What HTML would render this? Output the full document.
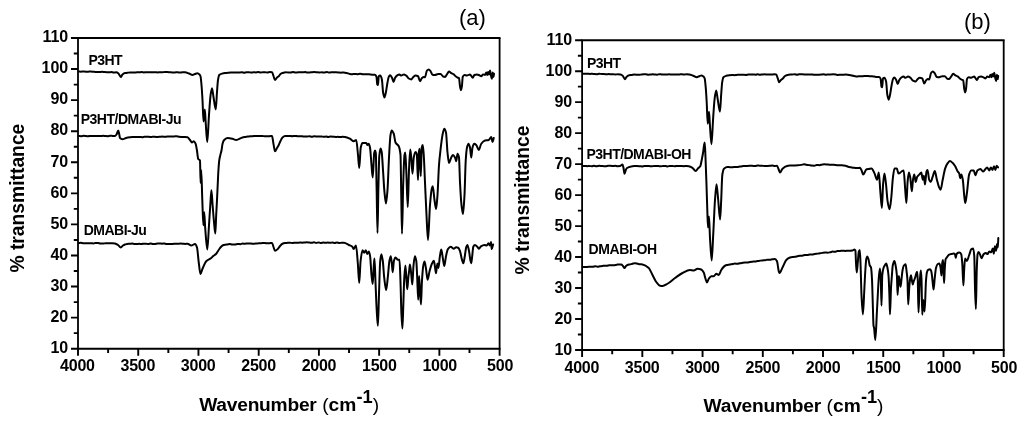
<!DOCTYPE html>
<html lang="en">
<head>
<meta charset="utf-8">
<title>FTIR spectra</title>
<style>
html,body{margin:0;padding:0;background:#fff;}
body{width:1024px;height:424px;overflow:hidden;}
svg{display:block;}
text{font-family:"Liberation Sans",Arial,Helvetica,sans-serif;fill:#000;}
.tk text{font-size:16px;font-weight:bold;}
.tkx text{letter-spacing:-0.25px;}
.lb{font-size:14px;font-weight:bold;}
.ti{font-size:19.5px;font-weight:bold;}
.ti .rg{font-weight:normal;}
.xt{font-size:19.2px;}
.yt{font-size:19.3px;}
.ti .sp{font-size:18.2px;}
.tg{font-size:22px;font-weight:normal;}
.cv{fill:none;stroke:#000;stroke-width:2.0;stroke-linejoin:round;stroke-linecap:round;}
</style>
</head>
<body>
<svg width="1024" height="424" viewBox="0 0 1024 424">
<rect x="0" y="0" width="1024" height="424" fill="#fff"/>
<g id="panel-a">
<path d="M77.10 38.0H500.50M77.10 348.7H500.50" fill="none" stroke="#000" stroke-width="2.05"/>
<path d="M78.0 38.0V348.7M499.6 38.0V348.7" fill="none" stroke="#000" stroke-width="1.8"/>
<path d="M71.00 38.00H78.0M73.80 53.53H78.0M71.00 69.07H78.0M73.80 84.61H78.0M71.00 100.14H78.0M73.80 115.67H78.0M71.00 131.21H78.0M73.80 146.75H78.0M71.00 162.28H78.0M73.80 177.81H78.0M71.00 193.35H78.0M73.80 208.88H78.0M71.00 224.42H78.0M73.80 239.96H78.0M71.00 255.49H78.0M73.80 271.02H78.0M71.00 286.56H78.0M73.80 302.10H78.0M71.00 317.63H78.0M73.80 333.17H78.0M71.00 348.70H78.0M78.00 348.7V355.70M108.11 348.7V352.90M138.23 348.7V355.70M168.34 348.7V352.90M198.46 348.7V355.70M228.57 348.7V352.90M258.69 348.7V355.70M288.80 348.7V352.90M318.91 348.7V355.70M349.03 348.7V352.90M379.14 348.7V355.70M409.26 348.7V352.90M439.37 348.7V355.70M469.49 348.7V352.90M499.60 348.7V355.70" stroke="#000" stroke-width="1.9" fill="none"/>
<g class="tk" text-anchor="end">
<text x="68.20" y="42.00">110</text>
<text x="68.20" y="73.14">100</text>
<text x="68.20" y="104.28">90</text>
<text x="68.20" y="135.42">80</text>
<text x="68.20" y="166.56">70</text>
<text x="68.20" y="197.70">60</text>
<text x="68.20" y="228.84">50</text>
<text x="68.20" y="259.98">40</text>
<text x="68.20" y="291.12">30</text>
<text x="68.20" y="322.26">20</text>
<text x="68.20" y="353.40">10</text>
</g>
<g class="tk tkx" text-anchor="middle">
<text x="77.40" y="371.30">4000</text>
<text x="137.79" y="371.30">3500</text>
<text x="198.17" y="371.30">3000</text>
<text x="258.56" y="371.30">2500</text>
<text x="318.94" y="371.30">2000</text>
<text x="379.33" y="371.30">1500</text>
<text x="439.71" y="371.30">1000</text>
<text x="500.10" y="371.30">500</text>
</g>
<path class="cv" d="M78.75 71.50C79.45 71.54 80.15 71.63 80.86 71.63C81.68 71.63 82.51 71.42 83.34 71.42C84.17 71.42 85.00 71.61 85.82 71.63C86.61 71.64 87.39 71.65 88.18 71.65C88.91 71.65 89.64 71.58 90.37 71.58C91.27 71.58 92.17 71.62 93.07 71.67C93.85 71.71 94.64 71.91 95.42 71.97C96.26 72.03 97.09 72.10 97.93 72.10C98.62 72.10 99.31 71.94 100.00 71.90C100.70 71.86 101.41 71.81 102.11 71.81C103.02 71.81 103.92 71.99 104.83 72.06C105.46 72.10 106.09 72.14 106.73 72.17C107.68 72.22 108.63 72.32 109.58 72.32C110.18 72.32 110.78 72.07 111.38 72.07C112.10 72.07 112.82 72.51 113.53 72.51C114.44 72.51 115.34 72.30 116.25 72.30C117.00 72.30 117.75 72.90 118.50 73.50C119.25 74.10 120.00 77.00 120.75 77.00C121.33 77.00 121.92 75.01 122.50 74.50C123.33 73.78 124.17 73.11 125.00 73.00C125.76 72.90 126.52 72.90 127.28 72.83C128.18 72.74 129.09 72.40 130.00 72.40C130.78 72.40 131.56 72.42 132.34 72.44C133.10 72.46 133.87 72.55 134.64 72.55C135.43 72.55 136.21 72.24 137.00 72.24C137.64 72.24 138.28 72.33 138.92 72.33C139.91 72.33 140.89 72.12 141.88 72.12C142.58 72.12 143.29 72.38 143.99 72.38C144.62 72.38 145.25 72.13 145.88 72.13C146.79 72.13 147.70 72.23 148.61 72.24C149.31 72.25 150.00 72.25 150.69 72.25C151.38 72.26 152.07 72.36 152.76 72.36C153.66 72.36 154.56 72.25 155.46 72.25C156.16 72.25 156.86 72.39 157.56 72.39C158.38 72.39 159.19 72.20 160.00 72.20C160.92 72.20 161.84 72.23 162.76 72.23C163.40 72.23 164.03 72.03 164.67 72.01C165.52 71.99 166.37 71.98 167.22 71.98C168.19 71.98 169.15 72.15 170.12 72.24C170.83 72.31 171.55 72.45 172.26 72.45C173.21 72.45 174.16 72.41 175.10 72.39C175.99 72.37 176.87 72.34 177.75 72.34C178.51 72.34 179.27 72.51 180.02 72.51C180.75 72.51 181.48 72.39 182.21 72.35C183.14 72.31 184.07 72.25 185.00 72.25C186.33 72.25 187.67 73.02 189.00 73.50C190.17 73.92 191.33 75.00 192.50 75.00C193.33 75.00 194.17 74.29 195.00 74.00C195.83 73.71 196.67 73.25 197.50 73.25C198.17 73.25 198.83 73.85 199.50 74.50C199.83 74.82 200.17 75.28 200.50 76.25C200.83 77.22 201.17 81.32 201.50 85.00C201.83 88.68 202.17 94.11 202.50 100.00C202.83 105.89 203.17 121.50 203.50 121.50C203.93 121.50 204.37 109.50 204.80 109.50C205.07 109.50 205.33 117.37 205.60 121.00C206.15 128.48 206.70 142.00 207.25 142.00C207.83 142.00 208.42 123.09 209.00 115.00C209.50 108.06 210.00 99.67 210.50 96.00C211.00 92.33 211.50 88.25 212.00 88.25C212.50 88.25 213.00 94.15 213.50 97.00C214.25 101.28 215.00 109.50 215.75 109.50C216.17 109.50 216.58 97.37 217.00 92.00C217.33 87.70 217.67 82.04 218.00 80.00C218.42 77.45 218.83 75.42 219.25 75.00C220.17 74.08 221.08 73.86 222.00 73.60C223.00 73.31 224.00 73.08 225.00 73.00C225.94 72.93 226.87 72.93 227.81 72.86C228.62 72.81 229.44 72.61 230.25 72.57C230.98 72.53 231.71 72.50 232.43 72.50C233.29 72.50 234.14 72.50 235.00 72.50C235.74 72.50 236.49 72.60 237.23 72.60C237.93 72.60 238.64 72.39 239.34 72.38C240.30 72.36 241.26 72.34 242.21 72.34C242.79 72.34 243.37 72.71 243.95 72.71C244.83 72.71 245.71 72.15 246.60 72.15C247.37 72.15 248.15 72.17 248.93 72.21C249.59 72.24 250.26 72.52 250.92 72.52C251.82 72.52 252.72 72.33 253.62 72.33C254.36 72.33 255.09 72.39 255.82 72.39C256.58 72.39 257.34 72.12 258.09 72.12C258.95 72.12 259.80 72.48 260.65 72.48C261.33 72.48 262.01 72.26 262.69 72.26C263.51 72.26 264.33 72.27 265.15 72.28C265.87 72.29 266.59 72.49 267.31 72.49C268.21 72.49 269.11 72.07 270.01 72.07C270.67 72.07 271.34 72.13 272.00 72.25C272.50 72.34 273.00 74.71 273.50 76.00C274.00 77.29 274.50 80.00 275.00 80.00C275.67 80.00 276.33 78.10 277.00 77.50C277.58 76.97 278.17 76.79 278.75 76.25C279.33 75.71 279.92 74.42 280.50 74.00C281.17 73.52 281.83 73.20 282.50 73.00C283.67 72.65 284.83 72.30 286.00 72.30C286.69 72.30 287.38 72.44 288.07 72.44C289.06 72.44 290.05 72.43 291.03 72.40C291.63 72.38 292.24 72.00 292.84 72.00C293.76 72.00 294.68 72.47 295.60 72.47C296.35 72.47 297.11 72.40 297.87 72.35C298.58 72.31 299.29 72.20 300.00 72.20C300.93 72.20 301.87 72.23 302.80 72.23C303.60 72.23 304.39 72.10 305.19 72.10C305.77 72.10 306.35 72.44 306.93 72.44C307.90 72.44 308.87 72.44 309.85 72.43C310.50 72.43 311.16 72.21 311.82 72.17C312.74 72.11 313.67 72.06 314.60 72.06C315.34 72.06 316.08 72.34 316.82 72.37C317.79 72.42 318.76 72.46 319.73 72.46C320.39 72.46 321.05 72.30 321.72 72.30C322.56 72.30 323.39 72.50 324.23 72.50C325.17 72.50 326.10 72.11 327.04 72.11C327.83 72.11 328.62 72.57 329.41 72.57C329.98 72.57 330.55 72.28 331.13 72.28C331.99 72.28 332.86 72.28 333.73 72.27C334.51 72.27 335.29 72.25 336.06 72.25C337.01 72.25 337.95 72.35 338.90 72.43C339.55 72.49 340.21 72.68 340.86 72.68C341.78 72.68 342.69 72.50 343.60 72.50C344.61 72.50 345.62 72.75 346.63 72.97C347.56 73.16 348.48 73.64 349.40 73.85C350.23 74.04 351.07 74.30 351.90 74.30C352.81 74.30 353.72 73.90 354.62 73.90C355.57 73.90 356.52 74.18 357.47 74.18C358.31 74.18 359.16 73.80 360.00 73.80C360.94 73.80 361.87 74.10 362.81 74.20C363.45 74.27 364.09 74.37 364.73 74.37C365.54 74.37 366.36 74.17 367.17 74.17C368.12 74.17 369.06 74.30 370.00 74.40C370.83 74.49 371.67 74.75 372.50 74.75C373.33 74.75 374.17 74.75 375.00 74.75C375.50 74.75 376.00 75.53 376.50 76.90C376.75 77.58 377.00 84.03 377.25 84.40C377.50 84.77 377.75 85.00 378.00 85.00C378.25 85.00 378.50 76.48 378.75 76.25C379.25 75.78 379.75 75.60 380.25 75.60C380.80 75.60 381.35 77.23 381.90 79.40C382.30 80.98 382.70 90.21 383.10 92.50C383.53 94.98 383.97 97.50 384.40 97.50C384.80 97.50 385.20 95.35 385.60 93.75C386.23 91.22 386.87 85.70 387.50 82.50C387.92 80.39 388.33 77.75 388.75 76.90C389.17 76.05 389.58 75.25 390.00 75.25C390.63 75.25 391.27 76.44 391.90 77.50C392.43 78.39 392.97 81.90 393.50 81.90C394.00 81.90 394.50 78.98 395.00 78.10C395.63 76.99 396.27 76.06 396.90 75.60C397.73 75.00 398.57 74.40 399.40 74.40C400.02 74.40 400.63 75.60 401.25 75.60C402.08 75.60 402.92 74.40 403.75 74.40C404.58 74.40 405.42 75.03 406.25 75.60C407.08 76.17 407.92 78.04 408.75 78.50C409.58 78.96 410.42 79.40 411.25 79.40C411.87 79.40 412.48 77.78 413.10 77.25C413.93 76.54 414.77 75.60 415.60 75.60C416.43 75.60 417.27 75.84 418.10 76.25C418.73 76.56 419.37 81.25 420.00 81.25C420.63 81.25 421.27 78.69 421.90 78.10C422.52 77.53 423.13 76.90 423.75 76.90C424.17 76.90 424.58 77.25 425.00 77.25C425.63 77.25 426.27 71.29 426.90 70.60C427.52 69.93 428.13 69.40 428.75 69.40C429.37 69.40 429.98 70.45 430.60 71.25C431.23 72.07 431.87 74.62 432.50 74.75C433.33 74.91 434.17 75.00 435.00 75.00C436.03 75.00 437.07 74.00 438.10 74.00C438.93 74.00 439.77 74.00 440.60 74.00C441.43 74.00 442.27 76.22 443.10 76.50C443.73 76.71 444.37 76.90 445.00 76.90C445.63 76.90 446.27 75.24 446.90 74.40C447.60 73.47 448.30 71.60 449.00 71.60C449.75 71.60 450.50 72.66 451.25 73.10C452.08 73.59 452.92 73.82 453.75 74.40C454.37 74.83 454.98 75.76 455.60 76.25C456.23 76.75 456.87 77.19 457.50 77.50C458.00 77.75 458.50 77.69 459.00 78.10C459.33 78.37 459.67 84.46 460.00 86.25C460.33 88.04 460.67 90.25 461.00 90.25C461.30 90.25 461.60 88.16 461.90 86.25C462.18 84.45 462.47 77.55 462.75 76.90C463.30 75.64 463.85 75.00 464.40 75.00C465.23 75.00 466.07 75.60 466.90 75.60C467.93 75.60 468.97 74.40 470.00 74.40C470.63 74.40 471.27 76.19 471.90 76.90C472.18 77.22 472.47 77.75 472.75 77.75C473.30 77.75 473.85 75.24 474.40 75.00C475.23 74.63 476.07 74.40 476.90 74.40C477.73 74.40 478.57 74.90 479.40 75.25C480.02 75.51 480.63 76.25 481.25 76.25C481.87 76.25 482.48 74.40 483.10 74.40C483.73 74.40 484.37 75.00 485.00 75.00C485.42 75.00 485.83 72.50 486.25 72.50C486.58 72.50 486.92 75.00 487.25 75.00C487.53 75.00 487.82 71.90 488.10 71.90C488.40 71.90 488.70 74.40 489.00 74.40C489.33 74.40 489.67 70.60 490.00 70.60C490.33 70.60 490.67 74.23 491.00 75.60C491.30 76.83 491.60 78.75 491.90 78.75C492.18 78.75 492.47 72.50 492.75 72.50C493.00 72.50 493.25 76.90 493.50 76.90C493.67 76.90 493.83 74.80 494.00 73.75"/>
<path class="cv" d="M78.75 136.00C79.52 136.08 80.30 136.24 81.07 136.24C82.00 136.24 82.93 135.84 83.86 135.84C84.67 135.84 85.48 136.00 86.30 136.08C86.88 136.13 87.47 136.25 88.05 136.25C88.91 136.25 89.78 135.89 90.64 135.89C91.49 135.89 92.34 136.02 93.19 136.05C93.91 136.08 94.64 136.10 95.37 136.10C96.36 136.10 97.35 136.01 98.35 136.01C99.14 136.01 99.94 136.07 100.74 136.07C101.55 136.07 102.36 135.82 103.18 135.82C103.86 135.82 104.54 135.92 105.22 135.98C105.96 136.05 106.70 136.26 107.43 136.26C108.38 136.26 109.33 135.78 110.28 135.78C111.07 135.78 111.86 135.93 112.65 135.95C113.43 135.98 114.22 136.00 115.00 136.00C115.50 136.00 116.00 135.19 116.50 134.50C117.08 133.70 117.67 130.50 118.25 130.50C118.57 130.50 118.88 132.65 119.20 134.00C119.47 135.14 119.73 137.73 120.00 138.00C120.83 138.85 121.67 139.20 122.50 139.20C123.67 139.20 124.83 138.27 126.00 138.00C127.33 137.69 128.67 137.48 130.00 137.30C130.75 137.20 131.50 137.09 132.25 137.04C133.16 136.97 134.06 136.91 134.97 136.91C135.83 136.91 136.69 137.08 137.55 137.08C138.37 137.08 139.18 137.00 140.00 137.00C140.73 137.00 141.47 137.19 142.20 137.19C143.01 137.19 143.82 136.77 144.63 136.77C145.67 136.77 146.71 136.77 147.75 136.77C148.48 136.77 149.21 136.93 149.94 136.93C150.78 136.93 151.61 136.89 152.45 136.87C153.30 136.86 154.15 136.84 155.00 136.84C155.72 136.84 156.43 137.00 157.15 137.00C158.10 137.00 159.05 136.89 160.00 136.80C160.72 136.73 161.44 136.48 162.16 136.48C162.97 136.48 163.78 136.84 164.59 136.84C165.43 136.84 166.27 136.66 167.10 136.58C167.84 136.50 168.58 136.38 169.32 136.38C170.13 136.38 170.95 136.38 171.76 136.38C172.51 136.39 173.25 136.40 174.00 136.40C174.80 136.40 175.60 136.34 176.40 136.34C177.33 136.34 178.25 136.72 179.17 136.80C180.30 136.90 181.43 136.99 182.56 136.99C183.37 137.00 184.19 137.00 185.00 137.00C185.83 137.00 186.67 137.12 187.50 137.30C188.33 137.48 189.17 139.01 190.00 140.00C190.63 140.75 191.27 142.50 191.90 142.50C192.52 142.50 193.13 141.30 193.75 141.30C194.37 141.30 194.98 142.43 195.60 143.75C196.03 144.68 196.47 147.54 196.90 150.00C197.33 152.46 197.77 158.37 198.20 159.00C198.80 159.88 199.40 159.31 200.00 160.40C200.20 160.76 200.40 183.00 200.60 183.00C200.80 183.00 201.00 170.00 201.20 170.00C201.57 170.00 201.93 190.85 202.30 200.00C202.67 209.15 203.03 225.30 203.40 225.30C203.67 225.30 203.93 212.30 204.20 212.30C204.53 212.30 204.87 223.76 205.20 228.00C205.90 236.90 206.60 249.50 207.30 249.50C207.87 249.50 208.43 233.45 209.00 225.00C209.43 218.54 209.87 211.19 210.30 205.00C210.67 199.77 211.03 190.30 211.40 190.30C211.80 190.30 212.20 200.12 212.60 205.00C213.07 210.69 213.53 217.21 214.00 222.00C214.43 226.45 214.87 233.60 215.30 233.60C215.60 233.60 215.90 220.86 216.20 215.00C216.43 210.45 216.67 206.62 216.90 202.00C217.17 196.72 217.43 190.53 217.70 185.00C217.93 180.16 218.17 174.36 218.40 170.80C218.70 166.23 219.00 162.07 219.30 160.00C219.63 157.70 219.97 156.66 220.30 155.20C220.73 153.30 221.17 152.20 221.60 150.00C221.90 148.48 222.20 145.21 222.50 144.00C222.92 142.32 223.33 141.00 223.75 140.50C225.00 139.00 226.25 138.00 227.50 138.00C228.26 138.00 229.02 138.09 229.78 138.18C230.68 138.28 231.59 138.52 232.50 138.75C233.75 139.07 235.00 140.00 236.25 140.00C238.33 140.00 240.42 138.00 242.50 137.50C243.54 137.25 244.57 137.12 245.61 136.93C246.41 136.78 247.20 136.57 248.00 136.50C248.69 136.44 249.38 136.42 250.07 136.37C250.97 136.32 251.86 136.26 252.76 136.19C253.51 136.13 254.25 136.04 255.00 136.00C255.80 135.95 256.59 135.89 257.39 135.89C258.21 135.89 259.03 135.98 259.85 135.98C260.71 135.98 261.57 135.97 262.43 135.97C263.15 135.97 263.88 136.27 264.60 136.27C265.34 136.27 266.09 136.14 266.83 136.14C267.72 136.14 268.61 136.17 269.51 136.17C270.34 136.17 271.17 136.00 272.00 136.00C272.50 136.00 273.00 141.46 273.50 144.00C274.00 146.54 274.50 151.25 275.00 151.25C275.67 151.25 276.33 149.11 277.00 148.00C277.58 147.03 278.17 146.14 278.75 145.00C279.33 143.86 279.92 142.16 280.50 141.00C281.17 139.67 281.83 138.11 282.50 137.50C283.33 136.74 284.17 136.00 285.00 136.00C285.89 136.00 286.78 136.08 287.67 136.08C288.47 136.08 289.28 135.93 290.09 135.93C290.76 135.93 291.44 136.26 292.11 136.26C293.01 136.26 293.91 135.95 294.81 135.95C295.79 135.95 296.77 136.26 297.75 136.26C298.50 136.26 299.25 136.25 300.00 136.25C300.66 136.25 301.33 136.27 301.99 136.30C302.82 136.33 303.64 136.49 304.47 136.53C305.29 136.57 306.10 136.61 306.92 136.61C307.80 136.61 308.68 136.17 309.56 136.17C310.30 136.17 311.03 136.71 311.77 136.71C312.64 136.71 313.50 136.29 314.37 136.29C315.07 136.29 315.77 136.35 316.47 136.40C317.19 136.45 317.91 136.62 318.62 136.62C319.57 136.62 320.52 136.45 321.47 136.45C322.22 136.45 322.97 136.85 323.73 136.85C324.61 136.85 325.49 136.50 326.37 136.50C326.94 136.50 327.51 136.95 328.08 136.95C328.94 136.95 329.79 136.58 330.65 136.58C331.57 136.58 332.48 136.62 333.40 136.67C334.16 136.71 334.93 136.95 335.70 136.95C336.38 136.95 337.05 136.86 337.73 136.86C338.52 136.86 339.31 137.09 340.09 137.09C340.88 137.09 341.67 136.83 342.46 136.83C343.31 136.83 344.15 136.91 345.00 137.00C346.67 137.17 348.33 137.97 350.00 138.75C351.25 139.33 352.50 141.25 353.75 141.25C354.58 141.25 355.42 140.00 356.25 140.00C356.83 140.00 357.42 149.49 358.00 155.00C358.42 158.94 358.83 168.00 359.25 168.00C359.75 168.00 360.25 149.70 360.75 147.50C361.33 144.93 361.92 143.00 362.50 143.00C363.75 143.00 365.00 143.00 366.25 143.00C366.67 143.00 367.08 145.00 367.50 145.00C367.92 145.00 368.33 143.75 368.75 143.75C369.17 143.75 369.58 145.55 370.00 147.50C370.50 149.84 371.00 159.63 371.50 165.00C371.92 169.48 372.33 177.50 372.75 177.50C373.23 177.50 373.72 155.31 374.20 153.00C374.47 151.73 374.73 150.60 375.00 150.60C375.27 150.60 375.53 151.50 375.80 153.00C376.07 154.50 376.33 175.11 376.60 187.50C376.90 201.44 377.20 233.00 377.50 233.00C377.80 233.00 378.10 199.91 378.40 187.50C378.70 175.09 379.00 159.11 379.30 156.00C379.73 151.51 380.17 148.50 380.60 148.50C380.97 148.50 381.33 150.14 381.70 152.00C382.13 154.20 382.57 163.77 383.00 170.00C383.50 177.19 384.00 187.57 384.50 192.50C385.00 197.43 385.50 203.50 386.00 203.50C386.50 203.50 387.00 196.36 387.50 190.00C388.00 183.64 388.50 166.36 389.00 157.50C389.50 148.64 390.00 137.85 390.50 135.00C390.92 132.62 391.33 130.50 391.75 130.50C392.42 130.50 393.08 132.10 393.75 133.75C394.33 135.20 394.92 141.33 395.50 142.50C396.58 144.67 397.67 144.08 398.75 146.25C399.33 147.42 399.92 149.00 400.50 155.00C400.75 157.57 401.00 181.88 401.25 195.00C401.50 208.12 401.75 233.75 402.00 233.75C402.42 233.75 402.83 194.43 403.25 182.50C403.67 170.57 404.08 157.27 404.50 155.00C404.75 153.64 405.00 152.50 405.25 152.50C405.58 152.50 405.92 163.25 406.25 170.00C406.75 180.12 407.25 207.00 407.75 207.00C408.17 207.00 408.58 178.79 409.00 170.00C409.42 161.21 409.83 149.50 410.25 149.50C410.58 149.50 410.92 154.23 411.25 157.50C411.67 161.59 412.08 173.75 412.50 173.75C412.92 173.75 413.33 159.68 413.75 157.50C414.33 154.44 414.92 152.00 415.50 152.00C415.92 152.00 416.33 152.66 416.75 153.75C417.17 154.84 417.58 180.00 418.00 180.00C418.33 180.00 418.67 153.17 419.00 151.25C419.25 149.81 419.50 148.75 419.75 148.75C420.08 148.75 420.42 176.25 420.75 176.25C421.08 176.25 421.42 149.03 421.75 147.50C422.08 145.97 422.42 145.00 422.75 145.00C423.08 145.00 423.42 150.48 423.75 155.00C424.17 160.65 424.58 173.40 425.00 182.50C425.50 193.42 426.00 205.58 426.50 215.00C427.00 224.42 427.50 240.00 428.00 240.00C428.67 240.00 429.33 213.03 430.00 205.00C430.58 197.97 431.17 190.93 431.75 188.75C432.08 187.50 432.42 186.25 432.75 186.25C433.33 186.25 433.92 196.18 434.50 200.00C435.03 203.49 435.57 209.00 436.10 209.00C436.57 209.00 437.03 201.20 437.50 195.00C438.00 188.36 438.50 171.67 439.00 165.00C439.50 158.33 440.00 154.32 440.50 150.00C441.17 144.25 441.83 138.20 442.50 135.00C443.08 132.20 443.67 128.75 444.25 128.75C444.83 128.75 445.42 130.31 446.00 132.50C446.50 134.38 447.00 147.91 447.50 152.50C448.00 157.09 448.50 163.00 449.00 163.00C449.75 163.00 450.50 158.84 451.25 157.50C451.83 156.46 452.42 155.00 453.00 155.00C453.67 155.00 454.33 156.29 455.00 157.50C455.42 158.26 455.83 161.25 456.25 161.25C456.67 161.25 457.08 153.75 457.50 153.75C458.00 153.75 458.50 155.10 459.00 157.50C459.33 159.10 459.67 176.14 460.00 182.50C460.50 192.03 461.00 200.71 461.50 205.00C462.00 209.29 462.50 214.00 463.00 214.00C463.50 214.00 464.00 203.82 464.50 195.00C464.92 187.65 465.33 166.14 465.75 160.00C466.17 153.86 466.58 149.20 467.00 147.50C467.50 145.46 468.00 143.75 468.50 143.75C469.00 143.75 469.50 145.56 470.00 147.50C470.42 149.11 470.83 157.50 471.25 157.50C471.67 157.50 472.08 148.96 472.50 147.50C473.08 145.46 473.67 143.75 474.25 143.75C474.92 143.75 475.58 144.38 476.25 145.00C477.08 145.78 477.92 150.00 478.75 150.00C479.58 150.00 480.42 144.86 481.25 143.75C482.50 142.09 483.75 140.79 485.00 140.50C486.25 140.21 487.50 140.32 488.75 140.00C489.58 139.79 490.42 137.00 491.25 137.00C491.67 137.00 492.08 142.00 492.50 142.00C492.92 142.00 493.33 139.33 493.75 138.00"/>
<path class="cv" d="M78.75 243.00C79.44 242.96 80.14 242.87 80.83 242.87C81.69 242.87 82.56 243.29 83.43 243.29C84.28 243.29 85.14 243.25 86.00 243.22C86.70 243.20 87.40 243.14 88.10 243.14C89.10 243.14 90.10 243.15 91.11 243.18C91.94 243.20 92.77 243.41 93.61 243.41C94.26 243.41 94.91 242.95 95.56 242.95C96.47 242.95 97.38 243.00 98.29 243.06C98.89 243.10 99.50 243.40 100.11 243.43C101.14 243.49 102.16 243.52 103.19 243.52C104.03 243.52 104.86 243.21 105.70 243.20C106.27 243.19 106.84 243.19 107.42 243.19C108.46 243.19 109.50 243.22 110.55 243.22C111.14 243.22 111.72 243.20 112.31 243.20C113.21 243.20 114.10 243.34 115.00 243.50C116.00 243.68 117.00 244.35 118.00 245.00C118.92 245.59 119.83 247.50 120.75 247.50C121.50 247.50 122.25 245.98 123.00 245.50C123.67 245.08 124.33 244.74 125.00 244.50C125.71 244.24 126.43 243.93 127.14 243.89C128.09 243.83 129.05 243.85 130.00 243.80C130.73 243.77 131.45 243.61 132.18 243.61C132.94 243.61 133.69 244.04 134.45 244.04C135.18 244.04 135.91 244.00 136.63 243.97C137.55 243.94 138.47 243.83 139.39 243.83C140.11 243.83 140.84 243.94 141.56 243.94C142.33 243.94 143.10 243.64 143.87 243.64C144.57 243.64 145.27 243.64 145.96 243.64C146.75 243.65 147.53 244.06 148.32 244.06C149.09 244.06 149.87 243.54 150.64 243.54C151.42 243.54 152.20 243.96 152.98 243.96C153.74 243.96 154.50 243.93 155.26 243.89C155.93 243.86 156.60 243.54 157.27 243.53C158.19 243.52 159.11 243.52 160.03 243.52C160.70 243.52 161.37 243.71 162.04 243.71C162.78 243.71 163.52 243.51 164.25 243.51C164.97 243.51 165.69 244.02 166.41 244.02C167.35 244.02 168.30 244.02 169.25 244.02C169.97 244.02 170.68 244.02 171.39 244.02C172.26 244.02 173.12 243.87 173.99 243.83C174.67 243.80 175.34 243.79 176.02 243.76C176.71 243.74 177.39 243.71 178.08 243.69C178.98 243.65 179.88 243.59 180.78 243.59C181.58 243.59 182.38 243.70 183.18 243.76C183.88 243.81 184.58 243.93 185.28 243.93C186.02 243.93 186.76 243.75 187.50 243.75C188.75 243.75 190.00 245.50 191.25 245.50C192.50 245.50 193.75 244.00 195.00 244.00C195.67 244.00 196.33 245.53 197.00 247.50C197.58 249.22 198.17 258.16 198.75 262.50C199.33 266.84 199.92 274.00 200.50 274.00C201.17 274.00 201.83 270.28 202.50 268.75C203.75 265.87 205.00 262.51 206.25 261.25C207.92 259.57 209.58 259.36 211.25 258.00C211.83 257.52 212.42 256.76 213.00 256.25C214.08 255.30 215.17 254.86 216.25 253.75C217.33 252.64 218.42 250.12 219.50 248.75C220.50 247.48 221.50 245.92 222.50 245.50C223.37 245.13 224.24 244.94 225.12 244.80C225.91 244.66 226.71 244.61 227.50 244.50C228.27 244.39 229.03 244.11 229.80 244.11C230.57 244.11 231.35 244.54 232.12 244.54C233.11 244.54 234.09 244.50 235.07 244.44C235.96 244.39 236.84 243.97 237.72 243.97C238.61 243.97 239.49 244.20 240.37 244.20C241.07 244.20 241.77 243.62 242.47 243.62C243.31 243.62 244.16 243.75 245.00 243.75C245.77 243.75 246.54 243.55 247.31 243.49C248.14 243.44 248.97 243.38 249.80 243.38C250.71 243.38 251.62 243.81 252.53 243.81C253.22 243.81 253.90 243.69 254.59 243.63C255.50 243.55 256.42 243.45 257.34 243.40C258.24 243.34 259.15 243.33 260.05 243.27C260.85 243.22 261.64 243.01 262.44 243.01C263.30 243.01 264.15 243.02 265.01 243.03C265.57 243.03 266.13 243.35 266.69 243.35C267.70 243.35 268.71 243.23 269.72 243.17C270.48 243.12 271.24 243.00 272.00 243.00C272.50 243.00 273.00 245.71 273.50 247.00C274.00 248.29 274.50 250.75 275.00 250.75C276.00 250.75 277.00 249.67 278.00 248.75C278.67 248.14 279.33 246.77 280.00 246.00C280.67 245.23 281.33 244.34 282.00 244.00C283.00 243.48 284.00 243.09 285.00 243.00C285.90 242.91 286.81 242.90 287.71 242.85C288.37 242.81 289.03 242.73 289.69 242.73C290.75 242.73 291.81 243.02 292.86 243.02C293.50 243.02 294.14 242.63 294.78 242.63C295.68 242.63 296.57 242.81 297.46 242.81C298.31 242.81 299.15 242.50 300.00 242.50C300.64 242.50 301.28 242.70 301.92 242.70C302.76 242.70 303.60 242.62 304.43 242.56C305.17 242.50 305.91 242.31 306.65 242.31C307.62 242.31 308.60 242.48 309.57 242.56C310.37 242.64 311.16 242.78 311.96 242.78C312.67 242.78 313.38 242.36 314.10 242.36C314.83 242.36 315.55 242.89 316.28 242.89C317.03 242.89 317.78 242.38 318.53 242.38C319.22 242.38 319.90 242.92 320.59 242.92C321.57 242.92 322.56 242.52 323.54 242.52C324.14 242.52 324.73 242.79 325.33 242.79C326.15 242.79 326.97 242.51 327.80 242.51C328.69 242.51 329.59 242.77 330.49 242.77C331.10 242.77 331.71 242.45 332.31 242.45C333.12 242.45 333.93 242.88 334.75 242.88C335.43 242.88 336.11 242.52 336.79 242.52C337.71 242.52 338.63 243.00 339.55 243.00C340.23 243.00 340.91 242.77 341.59 242.77C342.39 242.77 343.20 242.78 344.00 242.80C345.63 242.84 347.27 244.21 348.90 245.00C350.07 245.56 351.23 245.77 352.40 246.80C352.80 247.15 353.20 249.00 353.60 249.00C354.40 249.00 355.20 245.60 356.00 245.60C356.60 245.60 357.20 256.04 357.80 263.00C358.27 268.41 358.73 282.90 359.20 282.90C359.67 282.90 360.13 264.96 360.60 261.00C361.23 255.63 361.87 250.30 362.50 250.30C363.07 250.30 363.63 252.70 364.20 252.70C364.73 252.70 365.27 250.30 365.80 250.30C366.27 250.30 366.73 253.90 367.20 253.90C367.77 253.90 368.33 251.50 368.90 251.50C369.30 251.50 369.70 253.81 370.10 256.20C370.57 258.99 371.03 270.54 371.50 275.00C371.90 278.82 372.30 284.00 372.70 284.00C373.07 284.00 373.43 270.11 373.80 265.60C374.03 262.73 374.27 258.60 374.50 258.60C374.83 258.60 375.17 274.21 375.50 282.00C375.90 291.35 376.30 303.27 376.70 310.00C377.10 316.73 377.50 325.80 377.90 325.80C378.27 325.80 378.63 304.34 379.00 294.00C379.40 282.72 379.80 264.71 380.20 261.00C380.60 257.29 381.00 254.30 381.40 254.30C381.87 254.30 382.33 257.83 382.80 261.00C383.27 264.17 383.73 273.39 384.20 277.40C384.83 282.84 385.47 290.00 386.10 290.00C386.67 290.00 387.23 282.28 387.80 277.40C388.33 272.80 388.87 263.71 389.40 261.00C389.87 258.63 390.33 256.20 390.80 256.20C391.13 256.20 391.47 260.54 391.80 263.30C392.10 265.79 392.40 272.20 392.70 272.20C393.10 272.20 393.50 262.49 393.90 261.00C394.43 259.01 394.97 257.40 395.50 257.40C396.30 257.40 397.10 259.80 397.90 259.80C398.43 259.80 398.97 259.80 399.50 259.80C399.83 259.80 400.17 272.97 400.50 282.00C400.80 290.13 401.10 306.51 401.40 313.00C401.73 320.21 402.07 328.60 402.40 328.60C402.70 328.60 403.00 313.73 403.30 305.70C403.63 296.78 403.97 282.62 404.30 277.40C404.67 271.65 405.03 265.60 405.40 265.60C405.80 265.60 406.20 277.36 406.60 282.00C406.83 284.71 407.07 289.20 407.30 289.20C407.63 289.20 407.97 280.51 408.30 277.40C408.60 274.60 408.90 272.83 409.20 270.40C409.43 268.51 409.67 264.50 409.90 264.50C410.30 264.50 410.70 269.47 411.10 272.70C411.50 275.93 411.90 284.50 412.30 284.50C412.70 284.50 413.10 269.41 413.50 265.60C413.97 261.16 414.43 256.20 414.90 256.20C415.37 256.20 415.83 258.17 416.30 261.00C416.60 262.82 416.90 271.38 417.20 277.40C417.53 284.09 417.87 299.80 418.20 299.80C418.50 299.80 418.80 276.00 419.10 276.00C419.40 276.00 419.70 287.15 420.00 291.60C420.33 296.54 420.67 304.50 421.00 304.50C421.30 304.50 421.60 286.91 421.90 282.00C422.37 274.35 422.83 267.99 423.30 265.60C423.70 263.55 424.10 261.60 424.50 261.60C424.97 261.60 425.43 265.44 425.90 268.00C426.47 271.10 427.03 279.80 427.60 279.80C428.23 279.80 428.87 273.90 429.50 271.50C430.20 268.85 430.90 266.03 431.60 264.50C432.37 262.83 433.13 260.80 433.90 260.80C434.27 260.80 434.63 264.76 435.00 267.00C435.32 268.93 435.63 273.30 435.95 273.30C436.23 273.30 436.52 268.68 436.80 267.00C437.03 265.62 437.27 263.50 437.50 263.50C437.80 263.50 438.10 268.00 438.40 268.00C438.90 268.00 439.40 259.14 439.90 256.20C440.37 253.46 440.83 249.60 441.30 249.60C441.83 249.60 442.37 255.67 442.90 258.60C443.37 261.16 443.83 266.10 444.30 266.10C444.87 266.10 445.43 258.79 446.00 256.20C446.63 253.31 447.27 249.99 447.90 249.10C448.83 247.79 449.77 246.80 450.70 246.80C451.73 246.80 452.77 248.70 453.80 248.70C454.57 248.70 455.33 247.30 456.10 247.30C456.90 247.30 457.70 247.57 458.50 248.00C459.03 248.29 459.57 249.96 460.10 251.50C460.73 253.33 461.37 257.81 462.00 259.80C462.47 261.26 462.93 263.30 463.40 263.30C463.87 263.30 464.33 258.81 464.80 256.20C465.30 253.40 465.80 248.12 466.30 246.80C466.67 245.84 467.03 244.90 467.40 244.90C467.97 244.90 468.53 248.64 469.10 251.50C469.50 253.52 469.90 257.83 470.30 259.80C470.60 261.27 470.90 263.30 471.20 263.30C471.53 263.30 471.87 258.78 472.20 256.20C472.57 253.36 472.93 247.57 473.30 246.80C473.87 245.61 474.43 244.90 475.00 244.90C475.77 244.90 476.53 246.07 477.30 246.80C477.87 247.34 478.43 248.70 479.00 248.70C479.63 248.70 480.27 246.71 480.90 246.30C482.07 245.55 483.23 244.90 484.40 244.90C485.20 244.90 486.00 245.60 486.80 245.60C487.33 245.60 487.87 243.30 488.40 243.30C488.87 243.30 489.33 245.60 489.80 245.60C490.20 245.60 490.60 242.10 491.00 242.10C491.23 242.10 491.47 249.10 491.70 249.10C492.17 249.10 492.63 245.97 493.10 244.40"/>
<text class="lb" x="88.6" y="64.6" textLength="34.0">P3HT</text>
<text class="lb" x="80.7" y="124.0" textLength="100.8">P3HT/DMABI-Ju</text>
<text class="lb" x="83.8" y="234.8" textLength="63.1">DMABI-Ju</text>
<text class="ti xt" x="199.2" y="411.1" textLength="117.6">Wavenumber</text>
<text class="ti xt" x="322.20" y="411.1"><tspan class="rg">(</tspan>cm<tspan class="sp" dx="0.2" dy="-8.5">-1</tspan><tspan class="rg" dy="8.5">)</tspan></text>
<text class="ti yt" transform="translate(24.3 272.6) rotate(-90)">% transmittance</text>
<text class="tg" x="458.9" y="25.4">(a)</text>
</g>
<g id="panel-b">
<path d="M581.20 40.2H1004.60M581.20 350.0H1004.60" fill="none" stroke="#000" stroke-width="2.05"/>
<path d="M582.1 40.2V350.0M1003.7 40.2V350.0" fill="none" stroke="#000" stroke-width="1.8"/>
<path d="M575.10 40.20H582.1M577.90 55.69H582.1M575.10 71.18H582.1M577.90 86.67H582.1M575.10 102.16H582.1M577.90 117.65H582.1M575.10 133.14H582.1M577.90 148.63H582.1M575.10 164.12H582.1M577.90 179.61H582.1M575.10 195.10H582.1M577.90 210.59H582.1M575.10 226.08H582.1M577.90 241.57H582.1M575.10 257.06H582.1M577.90 272.55H582.1M575.10 288.04H582.1M577.90 303.53H582.1M575.10 319.02H582.1M577.90 334.51H582.1M575.10 350.00H582.1M582.10 350.0V357.00M612.21 350.0V354.20M642.33 350.0V357.00M672.44 350.0V354.20M702.56 350.0V357.00M732.67 350.0V354.20M762.79 350.0V357.00M792.90 350.0V354.20M823.01 350.0V357.00M853.13 350.0V354.20M883.24 350.0V357.00M913.36 350.0V354.20M943.47 350.0V357.00M973.59 350.0V354.20M1003.70 350.0V357.00" stroke="#000" stroke-width="1.9" fill="none"/>
<g class="tk" text-anchor="end">
<text x="572.20" y="44.90">110</text>
<text x="572.20" y="75.88">100</text>
<text x="572.20" y="106.86">90</text>
<text x="572.20" y="137.84">80</text>
<text x="572.20" y="168.82">70</text>
<text x="572.20" y="199.80">60</text>
<text x="572.20" y="230.78">50</text>
<text x="572.20" y="261.76">40</text>
<text x="572.20" y="292.74">30</text>
<text x="572.20" y="323.72">20</text>
<text x="572.20" y="354.70">10</text>
</g>
<g class="tk tkx" text-anchor="middle">
<text x="581.80" y="372.90">4000</text>
<text x="642.13" y="372.90">3500</text>
<text x="702.46" y="372.90">3000</text>
<text x="762.79" y="372.90">2500</text>
<text x="823.11" y="372.90">2000</text>
<text x="883.44" y="372.90">1500</text>
<text x="943.77" y="372.90">1000</text>
<text x="1004.10" y="372.90">500</text>
</g>
<path class="cv" d="M582.95 73.70C583.66 73.69 584.37 73.68 585.08 73.68C585.86 73.68 586.65 73.71 587.43 73.73C588.31 73.76 589.20 73.91 590.08 73.91C590.79 73.91 591.49 73.80 592.20 73.80C592.96 73.80 593.73 74.06 594.50 74.10C595.32 74.14 596.13 74.18 596.95 74.18C597.68 74.18 598.41 73.74 599.14 73.74C600.02 73.74 600.90 73.96 601.78 74.01C602.59 74.06 603.39 74.06 604.20 74.10C605.04 74.15 605.88 74.36 606.72 74.36C607.43 74.36 608.14 74.10 608.85 74.10C609.68 74.10 610.51 74.25 611.34 74.25C611.99 74.25 612.64 74.23 613.29 74.23C614.00 74.23 614.70 74.50 615.41 74.50C616.19 74.50 616.98 74.27 617.76 74.27C618.66 74.27 619.55 74.36 620.45 74.50C621.20 74.61 621.95 75.10 622.70 75.70C623.45 76.30 624.20 79.20 624.95 79.20C625.53 79.20 626.12 77.21 626.70 76.70C627.53 75.98 628.37 75.33 629.20 75.20C630.07 75.06 630.93 75.07 631.80 74.97C632.60 74.88 633.40 74.60 634.20 74.60C635.00 74.60 635.80 74.63 636.60 74.66C637.42 74.69 638.24 74.82 639.06 74.82C639.87 74.82 640.68 74.58 641.50 74.49C642.10 74.43 642.71 74.33 643.31 74.33C644.10 74.33 644.89 74.34 645.68 74.34C646.59 74.34 647.49 74.65 648.39 74.65C648.98 74.65 649.56 74.63 650.14 74.60C651.03 74.56 651.93 74.25 652.82 74.25C653.62 74.25 654.42 74.53 655.22 74.59C655.90 74.64 656.58 74.69 657.25 74.69C657.92 74.69 658.59 74.17 659.26 74.17C660.19 74.17 661.13 74.51 662.07 74.51C662.78 74.51 663.49 74.40 664.20 74.40C664.90 74.40 665.60 74.46 666.30 74.46C667.29 74.46 668.28 74.34 669.27 74.34C669.98 74.34 670.69 74.59 671.40 74.59C672.44 74.59 673.48 74.45 674.51 74.45C675.17 74.45 675.82 74.45 676.48 74.45C677.42 74.45 678.37 74.45 679.32 74.44C680.19 74.43 681.07 74.28 681.94 74.28C682.80 74.28 683.65 74.56 684.51 74.56C685.14 74.56 685.77 74.22 686.40 74.22C687.34 74.22 688.27 74.33 689.20 74.45C690.53 74.62 691.87 75.22 693.20 75.70C694.37 76.12 695.53 77.20 696.70 77.20C697.53 77.20 698.37 76.49 699.20 76.20C700.03 75.91 700.87 75.45 701.70 75.45C702.37 75.45 703.03 76.05 703.70 76.70C704.03 77.02 704.37 77.48 704.70 78.45C705.03 79.42 705.37 83.52 705.70 87.20C706.03 90.88 706.37 96.31 706.70 102.20C707.03 108.09 707.37 123.70 707.70 123.70C708.13 123.70 708.57 111.70 709.00 111.70C709.27 111.70 709.53 119.57 709.80 123.20C710.35 130.68 710.90 144.20 711.45 144.20C712.03 144.20 712.62 125.29 713.20 117.20C713.70 110.26 714.20 101.87 714.70 98.20C715.20 94.53 715.70 90.45 716.20 90.45C716.70 90.45 717.20 96.35 717.70 99.20C718.45 103.48 719.20 111.70 719.95 111.70C720.37 111.70 720.78 99.57 721.20 94.20C721.53 89.90 721.87 84.24 722.20 82.20C722.62 79.65 723.03 77.62 723.45 77.20C724.37 76.28 725.28 76.06 726.20 75.80C727.20 75.51 728.20 75.31 729.20 75.20C730.11 75.10 731.01 74.98 731.92 74.98C732.79 74.98 733.65 75.19 734.52 75.19C735.19 75.19 735.86 75.03 736.52 74.96C737.42 74.87 738.31 74.71 739.20 74.70C739.90 74.69 740.59 74.68 741.29 74.68C742.05 74.68 742.81 74.81 743.58 74.84C744.33 74.86 745.09 74.89 745.85 74.89C746.68 74.89 747.51 74.56 748.34 74.52C749.02 74.49 749.71 74.46 750.39 74.46C751.17 74.45 751.95 74.45 752.73 74.45C753.74 74.45 754.76 74.68 755.77 74.68C756.31 74.68 756.85 74.35 757.39 74.35C758.26 74.35 759.12 74.77 759.98 74.77C760.75 74.77 761.52 74.53 762.29 74.46C763.12 74.40 763.94 74.32 764.77 74.32C765.41 74.32 766.06 74.53 766.70 74.53C767.64 74.53 768.59 74.48 769.53 74.48C770.16 74.48 770.78 74.50 771.41 74.50C772.31 74.50 773.22 74.30 774.13 74.30C774.82 74.30 775.51 74.35 776.20 74.45C776.70 74.52 777.20 76.91 777.70 78.20C778.20 79.49 778.70 82.20 779.20 82.20C779.87 82.20 780.53 80.30 781.20 79.70C781.78 79.17 782.37 78.99 782.95 78.45C783.53 77.91 784.12 76.62 784.70 76.20C785.37 75.72 786.03 75.40 786.70 75.20C787.87 74.85 789.03 74.52 790.20 74.50C790.88 74.49 791.57 74.49 792.25 74.48C793.08 74.47 793.91 74.27 794.74 74.27C795.48 74.27 796.23 74.65 796.97 74.65C797.74 74.65 798.52 74.34 799.30 74.34C800.27 74.34 801.25 74.34 802.22 74.35C802.88 74.35 803.54 74.37 804.20 74.40C805.13 74.44 806.05 74.61 806.98 74.61C807.66 74.61 808.34 74.43 809.03 74.41C809.71 74.40 810.40 74.39 811.08 74.39C812.02 74.39 812.97 74.74 813.91 74.74C814.60 74.74 815.28 74.66 815.97 74.66C817.01 74.66 818.06 74.72 819.10 74.72C819.79 74.72 820.48 74.67 821.17 74.62C821.93 74.56 822.70 74.27 823.46 74.27C824.28 74.27 825.11 74.69 825.93 74.69C826.65 74.69 827.37 74.60 828.09 74.55C828.89 74.50 829.69 74.40 830.49 74.38C831.51 74.36 832.52 74.34 833.54 74.34C834.29 74.34 835.04 74.42 835.79 74.49C836.50 74.56 837.22 74.88 837.94 74.88C838.79 74.88 839.64 74.69 840.49 74.69C841.42 74.69 842.34 74.75 843.27 74.75C843.87 74.75 844.48 74.58 845.08 74.58C845.99 74.58 846.89 74.64 847.80 74.70C848.81 74.77 849.82 74.98 850.83 75.19C851.56 75.34 852.29 75.60 853.02 75.79C854.05 76.05 855.07 76.50 856.10 76.50C856.94 76.50 857.78 76.32 858.63 76.32C859.49 76.32 860.35 76.36 861.22 76.36C862.21 76.36 863.21 76.01 864.20 76.00C865.16 75.99 866.12 75.98 867.08 75.98C867.80 75.98 868.51 76.10 869.23 76.15C870.09 76.21 870.95 76.25 871.81 76.32C872.61 76.39 873.40 76.50 874.20 76.60C875.03 76.71 875.87 76.95 876.70 76.95C877.53 76.95 878.37 76.95 879.20 76.95C879.70 76.95 880.20 77.73 880.70 79.10C880.95 79.78 881.20 86.23 881.45 86.60C881.70 86.97 881.95 87.20 882.20 87.20C882.45 87.20 882.70 78.68 882.95 78.45C883.45 77.98 883.95 77.80 884.45 77.80C885.00 77.80 885.55 79.43 886.10 81.60C886.50 83.18 886.90 92.41 887.30 94.70C887.73 97.18 888.17 99.70 888.60 99.70C889.00 99.70 889.40 97.55 889.80 95.95C890.43 93.42 891.07 87.90 891.70 84.70C892.12 82.59 892.53 79.95 892.95 79.10C893.37 78.25 893.78 77.45 894.20 77.45C894.83 77.45 895.47 78.64 896.10 79.70C896.63 80.59 897.17 84.10 897.70 84.10C898.20 84.10 898.70 81.18 899.20 80.30C899.83 79.19 900.47 78.26 901.10 77.80C901.93 77.20 902.77 76.60 903.60 76.60C904.22 76.60 904.83 77.80 905.45 77.80C906.28 77.80 907.12 76.60 907.95 76.60C908.78 76.60 909.62 77.23 910.45 77.80C911.28 78.37 912.12 80.24 912.95 80.70C913.78 81.16 914.62 81.60 915.45 81.60C916.07 81.60 916.68 79.98 917.30 79.45C918.13 78.74 918.97 77.80 919.80 77.80C920.63 77.80 921.47 78.04 922.30 78.45C922.93 78.76 923.57 83.45 924.20 83.45C924.83 83.45 925.47 80.89 926.10 80.30C926.72 79.73 927.33 79.10 927.95 79.10C928.37 79.10 928.78 79.45 929.20 79.45C929.83 79.45 930.47 73.49 931.10 72.80C931.72 72.13 932.33 71.60 932.95 71.60C933.57 71.60 934.18 72.65 934.80 73.45C935.43 74.27 936.07 76.82 936.70 76.95C937.53 77.11 938.37 77.20 939.20 77.20C940.23 77.20 941.27 76.20 942.30 76.20C943.13 76.20 943.97 76.20 944.80 76.20C945.63 76.20 946.47 78.42 947.30 78.70C947.93 78.91 948.57 79.10 949.20 79.10C949.83 79.10 950.47 77.44 951.10 76.60C951.80 75.67 952.50 73.80 953.20 73.80C953.95 73.80 954.70 74.86 955.45 75.30C956.28 75.79 957.12 76.02 957.95 76.60C958.57 77.03 959.18 77.96 959.80 78.45C960.43 78.95 961.07 79.39 961.70 79.70C962.20 79.95 962.70 79.89 963.20 80.30C963.53 80.57 963.87 86.66 964.20 88.45C964.53 90.24 964.87 92.45 965.20 92.45C965.50 92.45 965.80 90.36 966.10 88.45C966.38 86.65 966.67 79.75 966.95 79.10C967.50 77.84 968.05 77.20 968.60 77.20C969.43 77.20 970.27 77.80 971.10 77.80C972.13 77.80 973.17 76.60 974.20 76.60C974.83 76.60 975.47 78.39 976.10 79.10C976.38 79.42 976.67 79.95 976.95 79.95C977.50 79.95 978.05 77.44 978.60 77.20C979.43 76.83 980.27 76.60 981.10 76.60C981.93 76.60 982.77 77.10 983.60 77.45C984.22 77.71 984.83 78.45 985.45 78.45C986.07 78.45 986.68 76.60 987.30 76.60C987.93 76.60 988.57 77.20 989.20 77.20C989.62 77.20 990.03 74.70 990.45 74.70C990.78 74.70 991.12 77.20 991.45 77.20C991.73 77.20 992.02 74.10 992.30 74.10C992.60 74.10 992.90 76.60 993.20 76.60C993.53 76.60 993.87 72.80 994.20 72.80C994.53 72.80 994.87 76.43 995.20 77.80C995.50 79.03 995.80 80.95 996.10 80.95C996.38 80.95 996.67 74.70 996.95 74.70C997.20 74.70 997.45 79.10 997.70 79.10C997.87 79.10 998.03 77.00 998.20 75.95"/>
<path class="cv" d="M582.50 166.00C583.38 165.98 584.27 165.94 585.15 165.94C585.86 165.94 586.56 166.20 587.26 166.20C587.94 166.20 588.63 166.01 589.31 166.01C590.19 166.01 591.07 166.25 591.94 166.25C592.58 166.25 593.21 165.76 593.84 165.76C594.70 165.76 595.56 166.18 596.42 166.18C597.34 166.18 598.26 165.80 599.18 165.80C599.98 165.80 600.78 165.94 601.59 166.02C602.38 166.09 603.17 166.23 603.97 166.24C604.52 166.26 605.06 166.27 605.61 166.27C606.50 166.27 607.38 165.84 608.26 165.81C609.04 165.78 609.82 165.76 610.60 165.76C611.45 165.76 612.31 166.02 613.17 166.02C613.78 166.02 614.39 165.85 615.00 165.85C615.89 165.85 616.77 166.16 617.66 166.16C618.44 166.16 619.22 166.09 620.00 166.00C620.83 165.90 621.67 164.50 622.50 164.50C622.83 164.50 623.17 166.55 623.50 168.00C623.83 169.45 624.17 173.75 624.50 173.75C625.00 173.75 625.50 170.46 626.00 169.50C626.33 168.86 626.67 168.23 627.00 168.00C628.42 167.03 629.83 166.62 631.25 166.40C632.16 166.26 633.07 166.16 633.99 166.11C634.98 166.07 635.97 166.03 636.97 166.03C637.98 166.03 638.99 166.13 640.00 166.20C640.73 166.25 641.46 166.41 642.19 166.41C642.92 166.41 643.66 166.12 644.39 166.09C645.32 166.06 646.25 166.03 647.18 166.03C647.78 166.03 648.38 166.05 648.98 166.06C649.88 166.08 650.79 166.32 651.70 166.32C652.49 166.32 653.28 165.96 654.07 165.96C654.74 165.96 655.41 165.97 656.08 165.98C656.92 166.00 657.77 166.08 658.62 166.12C659.44 166.17 660.27 166.24 661.09 166.24C661.82 166.24 662.55 166.05 663.28 166.02C664.04 165.98 664.81 165.96 665.57 165.96C666.23 165.96 666.88 166.40 667.54 166.40C668.33 166.40 669.12 165.92 669.92 165.92C670.84 165.92 671.75 165.97 672.67 166.02C673.34 166.06 674.00 166.24 674.66 166.24C675.61 166.24 676.55 165.93 677.49 165.93C678.19 165.93 678.89 165.94 679.58 165.94C680.39 165.94 681.20 166.11 682.01 166.12C682.60 166.13 683.19 166.14 683.78 166.14C684.70 166.14 685.62 166.00 686.55 166.00C687.28 166.00 688.02 166.09 688.75 166.20C690.00 166.38 691.25 167.04 692.50 167.80C693.57 168.44 694.63 171.00 695.70 171.00C696.50 171.00 697.30 169.12 698.10 168.30C698.82 167.56 699.53 167.41 700.25 166.25C700.80 165.36 701.35 161.68 701.90 159.00C702.30 157.05 702.70 155.08 703.10 152.50C703.40 150.57 703.70 147.07 704.00 145.50C704.25 144.19 704.50 142.50 704.75 142.50C705.00 142.50 705.25 151.75 705.50 157.50C705.83 165.16 706.17 175.23 706.50 185.00C706.77 192.82 707.03 202.63 707.30 210.00C707.53 216.44 707.77 227.40 708.00 227.40C708.33 227.40 708.67 216.50 709.00 216.50C709.33 216.50 709.67 232.44 710.00 238.00C710.57 247.46 711.13 260.40 711.70 260.40C712.20 260.40 712.70 244.03 713.20 235.00C713.80 224.16 714.40 208.13 715.00 200.00C715.50 193.23 716.00 184.20 716.50 184.20C717.07 184.20 717.63 194.46 718.20 200.00C718.83 206.19 719.47 219.60 720.10 219.60C720.47 219.60 720.83 207.32 721.20 200.00C721.57 192.68 721.93 177.45 722.30 175.00C722.87 171.22 723.43 169.30 724.00 168.75C725.17 167.62 726.33 167.00 727.50 167.00C728.30 167.00 729.10 167.16 729.90 167.16C730.86 167.16 731.81 167.14 732.76 167.13C733.50 167.11 734.25 167.03 735.00 167.00C735.83 166.96 736.65 166.96 737.48 166.91C738.22 166.86 738.97 166.63 739.72 166.52C740.60 166.39 741.47 166.27 742.35 166.17C743.11 166.08 743.87 165.93 744.63 165.92C745.72 165.90 746.80 165.91 747.88 165.89C748.59 165.88 749.29 165.75 750.00 165.75C750.77 165.75 751.54 165.80 752.31 165.84C753.24 165.88 754.16 165.97 755.09 165.97C755.96 165.97 756.83 165.50 757.69 165.50C758.33 165.50 758.98 165.65 759.62 165.69C760.45 165.73 761.28 165.74 762.12 165.78C762.92 165.82 763.72 165.97 764.52 165.97C765.36 165.97 766.20 165.97 767.04 165.97C768.02 165.97 769.00 165.91 769.98 165.84C770.62 165.79 771.26 165.50 771.91 165.50C772.92 165.50 773.93 165.99 774.94 165.99C775.63 165.99 776.31 165.75 777.00 165.75C777.50 165.75 778.00 167.88 778.50 169.00C779.00 170.12 779.50 172.50 780.00 172.50C780.83 172.50 781.67 169.50 782.50 168.75C784.00 167.39 785.50 166.35 787.00 166.00C787.89 165.79 788.77 165.61 789.66 165.59C790.62 165.56 791.58 165.57 792.54 165.55C793.36 165.54 794.18 165.52 795.00 165.50C795.98 165.47 796.97 165.43 797.95 165.37C799.08 165.29 800.21 165.09 801.33 164.89C802.22 164.74 803.11 164.30 804.00 164.30C804.75 164.30 805.51 164.62 806.26 164.74C807.27 164.89 808.28 164.96 809.28 165.12C809.99 165.24 810.70 165.53 811.41 165.58C812.41 165.65 813.40 165.70 814.40 165.70C815.18 165.70 815.96 165.07 816.73 165.07C817.73 165.07 818.73 165.13 819.73 165.13C820.61 165.13 821.49 164.49 822.37 164.42C823.18 164.35 823.99 164.30 824.80 164.30C825.49 164.30 826.19 164.42 826.88 164.48C827.75 164.56 828.62 164.68 829.48 164.75C830.09 164.79 830.70 164.85 831.31 164.85C832.13 164.85 832.95 164.83 833.77 164.83C834.52 164.83 835.27 165.00 836.02 165.08C836.82 165.16 837.61 165.30 838.40 165.30C839.18 165.30 839.95 165.18 840.73 165.18C841.51 165.18 842.28 165.35 843.06 165.43C843.88 165.52 844.69 165.56 845.50 165.70C846.37 165.85 847.24 166.44 848.10 166.68C849.10 166.95 850.11 167.11 851.11 167.30C852.00 167.48 852.90 167.70 853.80 167.80C854.87 167.93 855.94 168.07 857.01 168.07C858.01 168.07 859.00 167.80 860.00 167.80C860.60 167.80 861.20 169.73 861.80 171.00C862.27 171.99 862.73 174.60 863.20 174.60C864.23 174.60 865.27 169.89 866.30 169.50C867.16 169.18 868.03 169.12 868.89 168.94C869.76 168.75 870.63 168.40 871.50 168.40C872.53 168.40 873.57 171.52 874.60 173.60C875.43 175.28 876.27 179.80 877.10 179.80C877.67 179.80 878.23 172.60 878.80 172.60C879.33 172.60 879.87 186.29 880.40 192.30C880.90 197.93 881.40 207.90 881.90 207.90C882.30 207.90 882.70 188.59 883.10 184.00C883.53 179.03 883.97 173.60 884.40 173.60C884.93 173.60 885.47 179.62 886.00 184.00C886.50 188.11 887.00 197.41 887.50 200.60C888.17 204.85 888.83 209.30 889.50 209.30C890.07 209.30 890.63 203.23 891.20 198.50C891.77 193.77 892.33 182.28 892.90 177.80C893.43 173.59 893.97 168.40 894.50 168.40C895.27 168.40 896.03 168.40 896.80 168.40C897.37 168.40 897.93 173.60 898.50 173.60C899.53 173.60 900.57 172.07 901.60 171.50C902.30 171.11 903.00 170.50 903.70 170.50C904.17 170.50 904.63 182.49 905.10 188.10C905.53 193.31 905.97 203.10 906.40 203.10C906.80 203.10 907.20 186.00 907.60 181.90C908.03 177.46 908.47 172.60 908.90 172.60C909.37 172.60 909.83 175.36 910.30 177.80C910.80 180.42 911.30 191.30 911.80 191.30C912.20 191.30 912.60 182.07 913.00 179.80C913.43 177.34 913.87 174.60 914.30 174.60C914.77 174.60 915.23 181.90 915.70 181.90C916.20 181.90 916.70 177.53 917.20 176.70C917.87 175.60 918.53 175.27 919.20 174.60C919.90 173.90 920.60 172.60 921.30 172.60C921.80 172.60 922.30 179.80 922.80 179.80C923.13 179.80 923.47 175.70 923.80 175.70C924.20 175.70 924.60 184.40 925.00 184.40C925.50 184.40 926.00 172.79 926.50 171.50C926.83 170.64 927.17 169.90 927.50 169.90C928.07 169.90 928.63 178.54 929.20 179.80C929.70 180.91 930.20 181.90 930.70 181.90C931.37 181.90 932.03 178.46 932.70 176.70C933.40 174.86 934.10 171.10 934.80 171.10C935.50 171.10 936.20 177.15 936.90 179.80C937.60 182.45 938.30 185.53 939.00 187.10C939.53 188.29 940.07 189.80 940.60 189.80C941.30 189.80 942.00 183.06 942.70 179.80C943.53 175.92 944.37 170.78 945.20 168.40C946.03 166.02 946.87 164.25 947.70 163.20C948.47 162.23 949.23 161.10 950.00 161.10C950.83 161.10 951.67 162.06 952.50 162.80C953.40 163.60 954.30 164.86 955.20 166.30C956.03 167.63 956.87 170.18 957.70 171.50C958.23 172.34 958.77 172.37 959.30 173.60C959.57 174.21 959.83 178.20 960.10 178.20C960.53 178.20 960.97 174.60 961.40 174.60C961.87 174.60 962.33 177.22 962.80 179.80C963.30 182.57 963.80 192.29 964.30 196.40C964.63 199.14 964.97 203.10 965.30 203.10C965.87 203.10 966.43 196.39 967.00 192.30C967.70 187.25 968.40 176.82 969.10 174.60C969.80 172.38 970.50 170.50 971.20 170.50C972.07 170.50 972.93 170.50 973.80 170.50C974.30 170.50 974.80 175.30 975.30 175.30C976.00 175.30 976.70 171.08 977.40 170.50C978.43 169.64 979.47 169.00 980.50 169.00C981.33 169.00 982.17 171.50 983.00 171.50C983.70 171.50 984.40 170.20 985.10 169.50C985.77 168.83 986.43 167.40 987.10 167.40C987.80 167.40 988.50 170.50 989.20 170.50C989.77 170.50 990.33 167.40 990.90 167.40C991.43 167.40 991.97 169.90 992.50 169.90C993.00 169.90 993.50 166.30 994.00 166.30C994.47 166.30 994.93 169.90 995.40 169.90C995.83 169.90 996.27 165.70 996.70 165.70C997.13 165.70 997.57 166.83 998.00 167.40"/>
<path class="cv" d="M582.50 267.00C583.36 267.04 584.23 267.11 585.09 267.11C585.88 267.11 586.67 266.97 587.47 266.90C588.43 266.83 589.39 266.69 590.35 266.69C591.13 266.69 591.91 266.70 592.69 266.70C593.55 266.70 594.42 266.20 595.29 266.20C595.94 266.20 596.59 266.64 597.24 266.64C598.16 266.64 599.08 266.37 600.00 266.25C600.85 266.14 601.71 266.02 602.56 265.92C603.34 265.83 604.13 265.70 604.92 265.68C605.60 265.65 606.29 265.66 606.97 265.63C607.72 265.61 608.48 265.27 609.23 265.27C610.09 265.27 610.95 265.36 611.81 265.36C612.55 265.36 613.28 265.26 614.02 265.17C614.99 265.06 615.95 264.76 616.91 264.64C617.51 264.57 618.11 264.47 618.71 264.47C619.56 264.47 620.40 264.48 621.25 264.50C621.83 264.52 622.42 265.39 623.00 266.00C623.50 266.52 624.00 268.00 624.50 268.00C625.00 268.00 625.50 266.44 626.00 266.00C626.50 265.56 627.00 265.18 627.50 265.00C628.38 264.68 629.26 264.60 630.14 264.37C630.91 264.16 631.68 263.86 632.45 263.69C633.30 263.51 634.15 263.25 635.00 263.25C635.91 263.25 636.81 263.63 637.72 263.81C638.47 263.96 639.21 264.17 639.96 264.27C640.81 264.37 641.65 264.38 642.50 264.50C644.58 264.80 646.67 266.12 648.75 268.00C650.00 269.13 651.25 272.67 652.50 275.00C653.75 277.33 655.00 280.37 656.25 282.00C657.50 283.63 658.75 285.53 660.00 285.75C660.83 285.89 661.67 286.00 662.50 286.00C664.17 286.00 665.83 284.68 667.50 283.75C670.00 282.36 672.50 279.78 675.00 278.00C677.50 276.22 680.00 274.25 682.50 273.00C685.00 271.75 687.50 270.00 690.00 270.00C691.25 270.00 692.50 270.50 693.75 270.50C695.00 270.50 696.25 268.75 697.50 268.75C698.75 268.75 700.00 269.05 701.25 269.50C702.08 269.80 702.92 270.96 703.75 272.50C704.33 273.58 704.92 277.04 705.50 278.75C706.00 280.21 706.50 282.50 707.00 282.50C707.58 282.50 708.17 279.56 708.75 278.75C709.58 277.59 710.42 276.25 711.25 276.25C712.08 276.25 712.92 276.25 713.75 276.25C714.58 276.25 715.42 273.75 716.25 273.75C717.08 273.75 717.92 275.00 718.75 275.00C719.58 275.00 720.42 271.23 721.25 270.00C722.50 268.16 723.75 266.33 725.00 265.75C725.76 265.39 726.52 265.22 727.28 265.04C728.19 264.82 729.09 264.66 730.00 264.50C730.96 264.33 731.91 264.22 732.87 264.04C733.48 263.92 734.10 263.61 734.72 263.61C735.69 263.61 736.66 263.74 737.64 263.74C738.31 263.74 738.97 263.36 739.64 263.24C740.57 263.07 741.49 262.96 742.42 262.84C743.21 262.74 744.00 262.57 744.79 262.56C745.60 262.55 746.40 262.56 747.21 262.55C748.14 262.54 749.07 262.14 750.00 262.00C750.75 261.89 751.51 261.79 752.26 261.72C753.21 261.63 754.16 261.59 755.11 261.49C755.90 261.40 756.69 261.24 757.48 261.11C758.44 260.95 759.39 260.75 760.35 260.62C760.99 260.53 761.62 260.45 762.26 260.39C763.24 260.29 764.21 260.27 765.19 260.16C765.93 260.07 766.67 259.66 767.41 259.66C768.17 259.66 768.94 259.68 769.70 259.68C770.56 259.68 771.42 259.38 772.28 259.28C773.19 259.17 774.09 259.00 775.00 259.00C775.67 259.00 776.33 259.98 777.00 261.25C777.58 262.36 778.17 269.42 778.75 271.25C779.00 272.03 779.25 273.00 779.50 273.00C780.50 273.00 781.50 269.41 782.50 267.50C783.75 265.11 785.00 261.25 786.25 260.00C787.50 258.75 788.75 257.92 790.00 257.50C790.76 257.24 791.53 257.01 792.29 256.96C793.11 256.90 793.93 256.91 794.75 256.85C795.70 256.79 796.65 256.37 797.60 256.18C798.40 256.02 799.20 255.81 800.00 255.75C800.76 255.69 801.52 255.70 802.28 255.63C803.21 255.55 804.13 254.93 805.05 254.93C805.78 254.93 806.51 255.08 807.24 255.08C808.12 255.08 808.99 254.51 809.86 254.48C810.63 254.45 811.40 254.46 812.18 254.43C813.05 254.40 813.92 254.07 814.80 253.95C815.76 253.81 816.72 253.75 817.68 253.63C818.45 253.53 819.23 253.42 820.00 253.30C820.80 253.17 821.60 252.98 822.40 252.87C823.32 252.74 824.24 252.56 825.15 252.56C825.97 252.56 826.78 252.66 827.59 252.66C828.51 252.66 829.42 252.38 830.34 252.20C831.08 252.04 831.83 251.61 832.58 251.61C833.47 251.61 834.36 251.73 835.25 251.73C835.96 251.73 836.67 250.98 837.38 250.95C838.25 250.92 839.13 250.93 840.00 250.90C840.84 250.88 841.68 250.78 842.53 250.78C843.44 250.78 844.36 250.88 845.28 250.88C846.00 250.88 846.72 250.68 847.45 250.68C848.29 250.67 849.14 250.68 849.98 250.67C850.82 250.67 851.66 250.60 852.50 250.50C853.13 250.42 853.77 249.50 854.40 249.50C854.73 249.50 855.07 249.81 855.40 250.50C855.60 250.91 855.80 259.84 856.00 263.00C856.25 266.95 856.50 272.40 856.75 272.40C857.08 272.40 857.42 266.41 857.75 263.00C858.08 259.59 858.42 252.81 858.75 251.75C859.08 250.69 859.42 249.90 859.75 249.90C860.00 249.90 860.25 257.43 860.50 263.00C860.83 270.43 861.17 288.41 861.50 295.00C861.97 304.23 862.43 314.40 862.90 314.40C863.40 314.40 863.90 297.10 864.40 288.00C864.73 281.93 865.07 274.04 865.40 269.25C865.68 265.18 865.97 260.53 866.25 259.25C866.58 257.74 866.92 256.50 867.25 256.50C867.67 256.50 868.08 257.98 868.50 259.25C868.92 260.52 869.33 264.53 869.75 265.50C870.17 266.47 870.58 266.24 871.00 267.40C871.33 268.32 871.67 273.44 872.00 279.25C872.30 284.48 872.60 298.88 872.90 308.00C873.10 314.08 873.30 324.04 873.50 325.50C873.70 326.96 873.90 326.87 874.10 328.00C874.50 330.25 874.90 340.00 875.30 340.00C875.87 340.00 876.43 319.89 877.00 310.00C877.67 298.37 878.33 281.77 879.00 275.50C879.33 272.36 879.67 268.60 880.00 268.60C880.25 268.60 880.50 273.33 880.75 278.00C881.00 282.67 881.25 305.60 881.50 305.60C881.75 305.60 882.00 278.28 882.25 275.50C882.67 270.86 883.08 269.25 883.50 268.00C883.92 266.75 884.33 266.19 884.75 265.50C885.25 264.67 885.75 263.40 886.25 263.40C886.67 263.40 887.08 265.92 887.50 268.00C887.83 269.67 888.17 271.75 888.50 275.50C888.80 278.87 889.10 287.11 889.40 295.00C889.60 300.26 889.80 314.40 890.00 314.40C890.33 314.40 890.67 294.03 891.00 288.00C891.30 282.57 891.60 279.32 891.90 275.50C892.18 271.89 892.47 266.82 892.75 265.50C893.30 262.94 893.85 261.10 894.40 261.10C894.80 261.10 895.20 263.52 895.60 265.50C896.03 267.64 896.47 269.96 896.90 275.50C897.13 278.48 897.37 295.00 897.60 295.00C897.98 295.00 898.37 276.00 898.75 276.00C899.08 276.00 899.42 279.81 899.75 281.75C900.03 283.40 900.32 286.75 900.60 286.75C900.90 286.75 901.20 281.81 901.50 279.25C901.83 276.41 902.17 272.29 902.50 270.50C902.92 268.26 903.33 266.33 903.75 265.75C904.37 264.89 904.98 264.25 905.60 264.25C905.90 264.25 906.20 268.05 906.50 270.50C906.83 273.22 907.17 275.17 907.50 280.50C907.73 284.23 907.97 304.40 908.20 304.40C908.60 304.40 909.00 289.95 909.40 285.50C909.68 282.35 909.97 279.46 910.25 278.00C910.50 276.72 910.75 275.25 911.00 275.25C911.30 275.25 911.60 278.94 911.90 280.50C912.18 281.97 912.47 284.50 912.75 284.50C913.08 284.50 913.42 282.06 913.75 281.10C914.17 279.90 914.58 279.21 915.00 278.00C915.42 276.79 915.83 274.70 916.25 273.60C916.53 272.85 916.82 271.75 917.10 271.75C917.32 271.75 917.53 275.34 917.75 279.25C918.00 283.76 918.25 312.50 918.50 312.50C918.87 312.50 919.23 292.30 919.60 285.50C919.82 281.48 920.03 277.72 920.25 275.50C920.47 273.28 920.68 270.50 920.90 270.50C921.10 270.50 921.30 274.88 921.50 279.25C921.75 284.72 922.00 314.75 922.25 314.75C922.60 314.75 922.95 300.00 923.30 300.00C923.73 300.00 924.17 311.50 924.60 311.50C925.07 311.50 925.53 286.30 926.00 280.50C926.30 276.77 926.60 273.45 926.90 272.40C927.30 271.01 927.70 270.15 928.10 269.90C928.73 269.51 929.37 269.25 930.00 269.25C930.42 269.25 930.83 270.06 931.25 271.10C931.58 271.93 931.92 275.46 932.25 278.00C932.70 281.43 933.15 289.60 933.60 289.60C933.98 289.60 934.37 281.43 934.75 278.00C935.17 274.28 935.58 269.61 936.00 268.00C936.50 266.06 937.00 264.56 937.50 264.25C938.13 263.86 938.77 263.60 939.40 263.60C939.80 263.60 940.20 265.92 940.60 268.00C940.90 269.56 941.20 275.50 941.50 275.50C941.75 275.50 942.00 264.66 942.25 263.00C942.50 261.34 942.75 259.90 943.00 259.90C943.17 259.90 943.33 267.00 943.50 270.50C943.70 274.70 943.90 283.00 944.10 283.00C944.32 283.00 944.53 272.57 944.75 269.25C945.03 264.91 945.32 260.01 945.60 259.25C946.03 258.09 946.47 258.00 946.90 257.40C947.52 256.54 948.13 255.26 948.75 254.90C949.58 254.41 950.42 254.18 951.25 254.00C952.08 253.82 952.92 253.60 953.75 253.60C954.17 253.60 954.58 253.83 955.00 254.25C955.25 254.50 955.50 257.75 955.75 257.75C956.00 257.75 956.25 254.67 956.50 254.25C957.03 253.34 957.57 252.97 958.10 252.75C958.53 252.57 958.97 252.40 959.40 252.40C960.02 252.40 960.63 253.05 961.25 254.25C961.58 254.90 961.92 259.01 962.25 263.00C962.63 267.59 963.02 285.40 963.40 285.40C963.67 285.40 963.93 273.25 964.20 269.25C964.50 264.75 964.80 258.60 965.10 258.60C965.70 258.60 966.30 260.90 966.90 260.90C967.63 260.90 968.37 257.16 969.10 255.25C969.87 253.26 970.63 249.70 971.40 249.20C972.00 248.81 972.60 248.50 973.20 248.50C973.57 248.50 973.93 251.61 974.30 256.40C974.53 259.45 974.77 280.38 975.00 287.70C975.30 297.11 975.60 309.00 975.90 309.00C976.18 309.00 976.47 277.27 976.75 269.80C977.03 262.33 977.32 255.33 977.60 254.10C977.90 252.80 978.20 251.90 978.50 251.90C978.97 251.90 979.43 253.20 979.90 254.10C980.43 255.13 980.97 258.20 981.50 258.20C982.23 258.20 982.97 254.68 983.70 254.10C984.43 253.52 985.17 253.00 985.90 253.00C986.43 253.00 986.97 254.10 987.50 254.10C988.10 254.10 988.70 251.40 989.30 251.40C989.90 251.40 990.50 252.30 991.10 252.30C991.63 252.30 992.17 248.50 992.70 248.50C993.07 248.50 993.43 253.70 993.80 253.70C994.17 253.70 994.53 246.30 994.90 246.30C995.27 246.30 995.63 250.80 996.00 250.80C996.37 250.80 996.73 244.00 997.10 244.00C997.33 244.00 997.57 247.40 997.80 247.40C997.97 247.40 998.13 241.13 998.30 238.00"/>
<text class="lb" x="587.1" y="68.3" textLength="34.0">P3HT</text>
<text class="lb" x="586.45" y="159.05" textLength="105.0">P3HT/DMABI-OH</text>
<text class="lb" x="588.6" y="254.05" textLength="68.6">DMABI-OH</text>
<text class="ti xt" x="703.6" y="411.8" textLength="117.6">Wavenumber</text>
<text class="ti xt" x="826.60" y="411.8"><tspan class="rg">(</tspan>cm<tspan class="sp" dx="0.2" dy="-8.5">-1</tspan><tspan class="rg" dy="8.5">)</tspan></text>
<text class="ti yt" transform="translate(529.3 274.5) rotate(-90)">% transmittance</text>
<text class="tg" x="964.0" y="29.4">(b)</text>
</g>
</svg>
</body>
</html>
